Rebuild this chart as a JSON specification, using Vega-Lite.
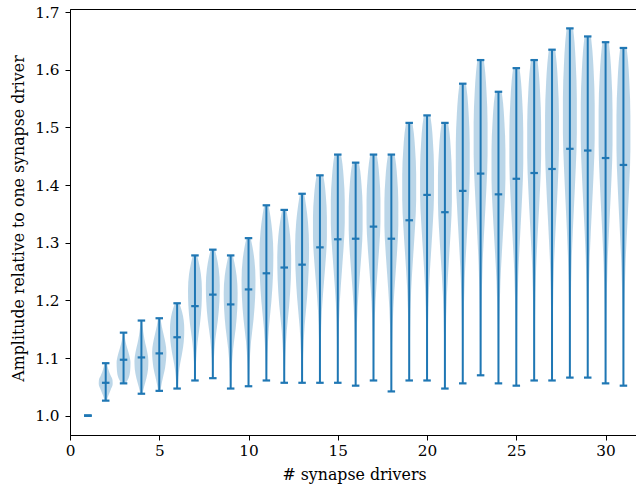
{
"$schema":"https://vega.github.io/schema/vega-lite/v6.json",
"autosize":{"type":"none"},
"padding":{"left":70,"top":9,"right":0,"bottom":50},
"width":567,"height":426,
"background":"white",
"config":{
 "view":{"stroke":"black","strokeWidth":1},
 "axis":{"grid":false,"domainColor":"black","domainWidth":1,"tickColor":"black","tickWidth":1,"tickSize":5,"labelFont":"DejaVu Serif","labelFontSize":15.3,"labelColor":"black","titleFont":"DejaVu Serif","titleFontSize":15.8,"titleFontWeight":"normal","titleColor":"black"}
},
"datasets":{
"bodies":[
{"d":2,"y":1.026,"lo":1.94,"hi":2.06},{"d":2,"y":1.035,"lo":1.85,"hi":2.15},{"d":2,"y":1.045,"lo":1.72,"hi":2.28},{"d":2,"y":1.055,"lo":1.61,"hi":2.39},{"d":2,"y":1.062,"lo":1.62,"hi":2.38},{"d":2,"y":1.070,"lo":1.73,"hi":2.27},{"d":2,"y":1.080,"lo":1.85,"hi":2.15},{"d":2,"y":1.091,"lo":1.93,"hi":2.07},
{"d":3,"y":1.056,"lo":2.88,"hi":3.12},{"d":3,"y":1.065,"lo":2.72,"hi":3.28},{"d":3,"y":1.078,"lo":2.63,"hi":3.37},{"d":3,"y":1.092,"lo":2.61,"hi":3.39},{"d":3,"y":1.105,"lo":2.68,"hi":3.32},{"d":3,"y":1.118,"lo":2.8,"hi":3.2},{"d":3,"y":1.130,"lo":2.9,"hi":3.1},{"d":3,"y":1.144,"lo":2.95,"hi":3.05},
{"d":4,"y":1.038,"lo":3.94,"hi":4.06},{"d":4,"y":1.050,"lo":3.85,"hi":4.15},{"d":4,"y":1.065,"lo":3.72,"hi":4.28},{"d":4,"y":1.080,"lo":3.63,"hi":4.37},{"d":4,"y":1.095,"lo":3.61,"hi":4.39},{"d":4,"y":1.110,"lo":3.67,"hi":4.33},{"d":4,"y":1.125,"lo":3.78,"hi":4.22},{"d":4,"y":1.140,"lo":3.87,"hi":4.13},{"d":4,"y":1.152,"lo":3.92,"hi":4.08},{"d":4,"y":1.165,"lo":3.95,"hi":4.05},
{"d":5,"y":1.043,"lo":4.94,"hi":5.06},{"d":5,"y":1.055,"lo":4.87,"hi":5.13},{"d":5,"y":1.068,"lo":4.78,"hi":5.22},{"d":5,"y":1.082,"lo":4.68,"hi":5.32},{"d":5,"y":1.097,"lo":4.62,"hi":5.38},{"d":5,"y":1.110,"lo":4.6,"hi":5.4},{"d":5,"y":1.125,"lo":4.65,"hi":5.35},{"d":5,"y":1.140,"lo":4.75,"hi":5.25},{"d":5,"y":1.155,"lo":4.86,"hi":5.14},{"d":5,"y":1.169,"lo":4.93,"hi":5.07},
{"d":6,"y":1.047,"lo":5.96,"hi":6.04},{"d":6,"y":1.060,"lo":5.94,"hi":6.06},{"d":6,"y":1.075,"lo":5.9,"hi":6.1},{"d":6,"y":1.090,"lo":5.83,"hi":6.17},{"d":6,"y":1.105,"lo":5.74,"hi":6.26},{"d":6,"y":1.120,"lo":5.66,"hi":6.34},{"d":6,"y":1.135,"lo":5.61,"hi":6.39},{"d":6,"y":1.150,"lo":5.6,"hi":6.4},{"d":6,"y":1.165,"lo":5.63,"hi":6.37},{"d":6,"y":1.180,"lo":5.72,"hi":6.28},{"d":6,"y":1.195,"lo":5.88,"hi":6.12},
{"d":7,"y":1.061,"lo":6.97,"hi":7.03},{"d":7,"y":1.094,"lo":6.94,"hi":7.06},{"d":7,"y":1.126,"lo":6.86,"hi":7.14},{"d":7,"y":1.159,"lo":6.72,"hi":7.28},{"d":7,"y":1.191,"lo":6.63,"hi":7.37},{"d":7,"y":1.217,"lo":6.61,"hi":7.39},{"d":7,"y":1.246,"lo":6.67,"hi":7.33},{"d":7,"y":1.265,"lo":6.78,"hi":7.22},{"d":7,"y":1.278,"lo":6.88,"hi":7.12},
{"d":8,"y":1.065,"lo":7.97,"hi":8.03},{"d":8,"y":1.099,"lo":7.94,"hi":8.06},{"d":8,"y":1.132,"lo":7.86,"hi":8.14},{"d":8,"y":1.165,"lo":7.72,"hi":8.28},{"d":8,"y":1.199,"lo":7.63,"hi":8.37},{"d":8,"y":1.226,"lo":7.61,"hi":8.39},{"d":8,"y":1.255,"lo":7.67,"hi":8.33},{"d":8,"y":1.275,"lo":7.78,"hi":8.22},{"d":8,"y":1.288,"lo":7.88,"hi":8.12},
{"d":9,"y":1.047,"lo":8.97,"hi":9.03},{"d":9,"y":1.082,"lo":8.94,"hi":9.06},{"d":9,"y":1.116,"lo":8.86,"hi":9.14},{"d":9,"y":1.151,"lo":8.72,"hi":9.28},{"d":9,"y":1.186,"lo":8.63,"hi":9.37},{"d":9,"y":1.213,"lo":8.61,"hi":9.39},{"d":9,"y":1.243,"lo":8.67,"hi":9.33},{"d":9,"y":1.264,"lo":8.78,"hi":9.22},{"d":9,"y":1.278,"lo":8.88,"hi":9.12},
{"d":10,"y":1.051,"lo":9.97,"hi":10.03},{"d":10,"y":1.090,"lo":9.94,"hi":10.06},{"d":10,"y":1.128,"lo":9.86,"hi":10.14},{"d":10,"y":1.167,"lo":9.72,"hi":10.28},{"d":10,"y":1.205,"lo":9.63,"hi":10.37},{"d":10,"y":1.236,"lo":9.61,"hi":10.39},{"d":10,"y":1.270,"lo":9.67,"hi":10.33},{"d":10,"y":1.293,"lo":9.78,"hi":10.22},{"d":10,"y":1.308,"lo":9.88,"hi":10.12},
{"d":11,"y":1.061,"lo":10.97,"hi":11.03},{"d":11,"y":1.107,"lo":10.94,"hi":11.06},{"d":11,"y":1.152,"lo":10.86,"hi":11.14},{"d":11,"y":1.198,"lo":10.72,"hi":11.28},{"d":11,"y":1.243,"lo":10.63,"hi":11.37},{"d":11,"y":1.280,"lo":10.61,"hi":11.39},{"d":11,"y":1.319,"lo":10.67,"hi":11.33},{"d":11,"y":1.347,"lo":10.78,"hi":11.22},{"d":11,"y":1.365,"lo":10.88,"hi":11.12},
{"d":12,"y":1.057,"lo":11.97,"hi":12.03},{"d":12,"y":1.102,"lo":11.94,"hi":12.06},{"d":12,"y":1.147,"lo":11.86,"hi":12.14},{"d":12,"y":1.192,"lo":11.72,"hi":12.28},{"d":12,"y":1.237,"lo":11.63,"hi":12.37},{"d":12,"y":1.273,"lo":11.61,"hi":12.39},{"d":12,"y":1.312,"lo":11.67,"hi":12.33},{"d":12,"y":1.339,"lo":11.78,"hi":12.22},{"d":12,"y":1.357,"lo":11.88,"hi":12.12},
{"d":13,"y":1.057,"lo":12.97,"hi":13.03},{"d":13,"y":1.106,"lo":12.94,"hi":13.06},{"d":13,"y":1.155,"lo":12.86,"hi":13.14},{"d":13,"y":1.205,"lo":12.72,"hi":13.28},{"d":13,"y":1.254,"lo":12.63,"hi":13.37},{"d":13,"y":1.293,"lo":12.61,"hi":13.39},{"d":13,"y":1.336,"lo":12.67,"hi":13.33},{"d":13,"y":1.365,"lo":12.78,"hi":13.22},{"d":13,"y":1.385,"lo":12.88,"hi":13.12},
{"d":14,"y":1.057,"lo":13.97,"hi":14.03},{"d":14,"y":1.129,"lo":13.95,"hi":14.05},{"d":14,"y":1.183,"lo":13.89,"hi":14.11},{"d":14,"y":1.237,"lo":13.76,"hi":14.24},{"d":14,"y":1.273,"lo":13.67,"hi":14.33},{"d":14,"y":1.309,"lo":13.61,"hi":14.39},{"d":14,"y":1.345,"lo":13.61,"hi":14.39},{"d":14,"y":1.381,"lo":13.67,"hi":14.33},{"d":14,"y":1.403,"lo":13.74,"hi":14.26},{"d":14,"y":1.417,"lo":13.82,"hi":14.18},
{"d":15,"y":1.057,"lo":14.97,"hi":15.03},{"d":15,"y":1.136,"lo":14.95,"hi":15.05},{"d":15,"y":1.196,"lo":14.89,"hi":15.11},{"d":15,"y":1.255,"lo":14.76,"hi":15.24},{"d":15,"y":1.295,"lo":14.67,"hi":15.33},{"d":15,"y":1.334,"lo":14.61,"hi":15.39},{"d":15,"y":1.374,"lo":14.61,"hi":15.39},{"d":15,"y":1.413,"lo":14.67,"hi":15.33},{"d":15,"y":1.437,"lo":14.74,"hi":15.26},{"d":15,"y":1.453,"lo":14.82,"hi":15.18},
{"d":16,"y":1.052,"lo":15.97,"hi":16.03},{"d":16,"y":1.129,"lo":15.95,"hi":16.05},{"d":16,"y":1.188,"lo":15.89,"hi":16.11},{"d":16,"y":1.246,"lo":15.76,"hi":16.24},{"d":16,"y":1.284,"lo":15.67,"hi":16.33},{"d":16,"y":1.323,"lo":15.61,"hi":16.39},{"d":16,"y":1.362,"lo":15.61,"hi":16.39},{"d":16,"y":1.400,"lo":15.67,"hi":16.33},{"d":16,"y":1.424,"lo":15.74,"hi":16.26},{"d":16,"y":1.439,"lo":15.82,"hi":16.18},
{"d":17,"y":1.061,"lo":16.97,"hi":17.03},{"d":17,"y":1.139,"lo":16.95,"hi":17.05},{"d":17,"y":1.198,"lo":16.89,"hi":17.11},{"d":17,"y":1.257,"lo":16.76,"hi":17.24},{"d":17,"y":1.296,"lo":16.67,"hi":17.33},{"d":17,"y":1.335,"lo":16.61,"hi":17.39},{"d":17,"y":1.375,"lo":16.61,"hi":17.39},{"d":17,"y":1.414,"lo":16.67,"hi":17.33},{"d":17,"y":1.437,"lo":16.74,"hi":17.26},{"d":17,"y":1.453,"lo":16.82,"hi":17.18},
{"d":18,"y":1.042,"lo":17.97,"hi":18.03},{"d":18,"y":1.124,"lo":17.95,"hi":18.05},{"d":18,"y":1.186,"lo":17.89,"hi":18.11},{"d":18,"y":1.248,"lo":17.76,"hi":18.24},{"d":18,"y":1.289,"lo":17.67,"hi":18.33},{"d":18,"y":1.330,"lo":17.61,"hi":18.39},{"d":18,"y":1.371,"lo":17.61,"hi":18.39},{"d":18,"y":1.412,"lo":17.67,"hi":18.33},{"d":18,"y":1.437,"lo":17.74,"hi":18.26},{"d":18,"y":1.453,"lo":17.82,"hi":18.18},
{"d":19,"y":1.061,"lo":18.97,"hi":19.03},{"d":19,"y":1.150,"lo":18.95,"hi":19.05},{"d":19,"y":1.218,"lo":18.89,"hi":19.11},{"d":19,"y":1.285,"lo":18.76,"hi":19.24},{"d":19,"y":1.329,"lo":18.67,"hi":19.33},{"d":19,"y":1.374,"lo":18.61,"hi":19.39},{"d":19,"y":1.419,"lo":18.61,"hi":19.39},{"d":19,"y":1.463,"lo":18.67,"hi":19.33},{"d":19,"y":1.490,"lo":18.74,"hi":19.26},{"d":19,"y":1.508,"lo":18.82,"hi":19.18},
{"d":20,"y":1.061,"lo":19.97,"hi":20.03},{"d":20,"y":1.153,"lo":19.95,"hi":20.05},{"d":20,"y":1.222,"lo":19.89,"hi":20.11},{"d":20,"y":1.291,"lo":19.76,"hi":20.24},{"d":20,"y":1.337,"lo":19.67,"hi":20.33},{"d":20,"y":1.383,"lo":19.61,"hi":20.39},{"d":20,"y":1.429,"lo":19.61,"hi":20.39},{"d":20,"y":1.475,"lo":19.67,"hi":20.33},{"d":20,"y":1.503,"lo":19.74,"hi":20.26},{"d":20,"y":1.521,"lo":19.82,"hi":20.18},
{"d":21,"y":1.047,"lo":20.97,"hi":21.03},{"d":21,"y":1.139,"lo":20.95,"hi":21.05},{"d":21,"y":1.208,"lo":20.89,"hi":21.11},{"d":21,"y":1.278,"lo":20.76,"hi":21.24},{"d":21,"y":1.324,"lo":20.67,"hi":21.33},{"d":21,"y":1.370,"lo":20.61,"hi":21.39},{"d":21,"y":1.416,"lo":20.61,"hi":21.39},{"d":21,"y":1.462,"lo":20.67,"hi":21.33},{"d":21,"y":1.490,"lo":20.74,"hi":21.26},{"d":21,"y":1.508,"lo":20.82,"hi":21.18},
{"d":22,"y":1.056,"lo":21.97,"hi":22.03},{"d":22,"y":1.160,"lo":21.95,"hi":22.05},{"d":22,"y":1.238,"lo":21.89,"hi":22.11},{"d":22,"y":1.316,"lo":21.76,"hi":22.24},{"d":22,"y":1.368,"lo":21.67,"hi":22.33},{"d":22,"y":1.420,"lo":21.61,"hi":22.39},{"d":22,"y":1.472,"lo":21.61,"hi":22.39},{"d":22,"y":1.524,"lo":21.67,"hi":22.33},{"d":22,"y":1.555,"lo":21.74,"hi":22.26},{"d":22,"y":1.576,"lo":21.82,"hi":22.18},
{"d":23,"y":1.070,"lo":22.97,"hi":23.03},{"d":23,"y":1.179,"lo":22.95,"hi":23.05},{"d":23,"y":1.262,"lo":22.89,"hi":23.11},{"d":23,"y":1.344,"lo":22.76,"hi":23.24},{"d":23,"y":1.398,"lo":22.67,"hi":23.33},{"d":23,"y":1.453,"lo":22.61,"hi":23.39},{"d":23,"y":1.508,"lo":22.61,"hi":23.39},{"d":23,"y":1.562,"lo":22.67,"hi":23.33},{"d":23,"y":1.595,"lo":22.74,"hi":23.26},{"d":23,"y":1.617,"lo":22.82,"hi":23.18},
{"d":24,"y":1.056,"lo":23.97,"hi":24.03},{"d":24,"y":1.157,"lo":23.95,"hi":24.05},{"d":24,"y":1.233,"lo":23.89,"hi":24.11},{"d":24,"y":1.309,"lo":23.76,"hi":24.24},{"d":24,"y":1.360,"lo":23.67,"hi":24.33},{"d":24,"y":1.410,"lo":23.61,"hi":24.39},{"d":24,"y":1.461,"lo":23.61,"hi":24.39},{"d":24,"y":1.511,"lo":23.67,"hi":24.33},{"d":24,"y":1.542,"lo":23.74,"hi":24.26},{"d":24,"y":1.562,"lo":23.82,"hi":24.18},
{"d":25,"y":1.052,"lo":24.97,"hi":25.03},{"d":25,"y":1.162,"lo":24.95,"hi":25.05},{"d":25,"y":1.245,"lo":24.89,"hi":25.11},{"d":25,"y":1.328,"lo":24.76,"hi":25.24},{"d":25,"y":1.383,"lo":24.67,"hi":25.33},{"d":25,"y":1.438,"lo":24.61,"hi":25.39},{"d":25,"y":1.493,"lo":24.61,"hi":25.39},{"d":25,"y":1.548,"lo":24.67,"hi":25.33},{"d":25,"y":1.581,"lo":24.74,"hi":25.26},{"d":25,"y":1.603,"lo":24.82,"hi":25.18},
{"d":26,"y":1.061,"lo":25.97,"hi":26.03},{"d":26,"y":1.172,"lo":25.95,"hi":26.05},{"d":26,"y":1.256,"lo":25.89,"hi":26.11},{"d":26,"y":1.339,"lo":25.76,"hi":26.24},{"d":26,"y":1.395,"lo":25.67,"hi":26.33},{"d":26,"y":1.450,"lo":25.61,"hi":26.39},{"d":26,"y":1.506,"lo":25.61,"hi":26.39},{"d":26,"y":1.561,"lo":25.67,"hi":26.33},{"d":26,"y":1.595,"lo":25.74,"hi":26.26},{"d":26,"y":1.617,"lo":25.82,"hi":26.18},
{"d":27,"y":1.061,"lo":26.97,"hi":27.03},{"d":27,"y":1.176,"lo":26.95,"hi":27.05},{"d":27,"y":1.262,"lo":26.89,"hi":27.11},{"d":27,"y":1.348,"lo":26.76,"hi":27.24},{"d":27,"y":1.405,"lo":26.67,"hi":27.33},{"d":27,"y":1.463,"lo":26.61,"hi":27.39},{"d":27,"y":1.520,"lo":26.61,"hi":27.39},{"d":27,"y":1.578,"lo":26.67,"hi":27.33},{"d":27,"y":1.612,"lo":26.74,"hi":27.26},{"d":27,"y":1.635,"lo":26.82,"hi":27.18},
{"d":28,"y":1.066,"lo":27.97,"hi":28.03},{"d":28,"y":1.187,"lo":27.95,"hi":28.05},{"d":28,"y":1.278,"lo":27.89,"hi":28.11},{"d":28,"y":1.369,"lo":27.76,"hi":28.24},{"d":28,"y":1.430,"lo":27.67,"hi":28.33},{"d":28,"y":1.490,"lo":27.61,"hi":28.39},{"d":28,"y":1.551,"lo":27.61,"hi":28.39},{"d":28,"y":1.611,"lo":27.67,"hi":28.33},{"d":28,"y":1.648,"lo":27.74,"hi":28.26},{"d":28,"y":1.672,"lo":27.82,"hi":28.18},
{"d":29,"y":1.066,"lo":28.97,"hi":29.03},{"d":29,"y":1.184,"lo":28.95,"hi":29.05},{"d":29,"y":1.273,"lo":28.89,"hi":29.11},{"d":29,"y":1.362,"lo":28.76,"hi":29.24},{"d":29,"y":1.421,"lo":28.67,"hi":29.33},{"d":29,"y":1.480,"lo":28.61,"hi":29.39},{"d":29,"y":1.540,"lo":28.61,"hi":29.39},{"d":29,"y":1.599,"lo":28.67,"hi":29.33},{"d":29,"y":1.634,"lo":28.74,"hi":29.26},{"d":29,"y":1.658,"lo":28.82,"hi":29.18},
{"d":30,"y":1.056,"lo":29.97,"hi":30.03},{"d":30,"y":1.174,"lo":29.95,"hi":30.05},{"d":30,"y":1.263,"lo":29.89,"hi":30.11},{"d":30,"y":1.352,"lo":29.76,"hi":30.24},{"d":30,"y":1.411,"lo":29.67,"hi":30.33},{"d":30,"y":1.470,"lo":29.61,"hi":30.39},{"d":30,"y":1.530,"lo":29.61,"hi":30.39},{"d":30,"y":1.589,"lo":29.67,"hi":30.33},{"d":30,"y":1.624,"lo":29.74,"hi":30.26},{"d":30,"y":1.648,"lo":29.82,"hi":30.18},
{"d":31,"y":1.052,"lo":30.97,"hi":31.03},{"d":31,"y":1.169,"lo":30.95,"hi":31.05},{"d":31,"y":1.257,"lo":30.89,"hi":31.11},{"d":31,"y":1.345,"lo":30.76,"hi":31.24},{"d":31,"y":1.404,"lo":30.67,"hi":31.33},{"d":31,"y":1.462,"lo":30.61,"hi":31.39},{"d":31,"y":1.521,"lo":30.61,"hi":31.39},{"d":31,"y":1.579,"lo":30.67,"hi":31.33},{"d":31,"y":1.615,"lo":30.74,"hi":31.26},{"d":31,"y":1.638,"lo":30.82,"hi":31.18}
],
"stats":[
{"d":1,"min":1.0,"med":1.0,"max":1.0},
{"d":2,"min":1.026,"med":1.057,"max":1.091},
{"d":3,"min":1.056,"med":1.097,"max":1.144},
{"d":4,"min":1.038,"med":1.101,"max":1.165},
{"d":5,"min":1.043,"med":1.108,"max":1.169},
{"d":6,"min":1.047,"med":1.136,"max":1.195},
{"d":7,"min":1.061,"med":1.190,"max":1.278},
{"d":8,"min":1.065,"med":1.210,"max":1.288},
{"d":9,"min":1.047,"med":1.193,"max":1.278},
{"d":10,"min":1.051,"med":1.219,"max":1.308},
{"d":11,"min":1.061,"med":1.247,"max":1.365},
{"d":12,"min":1.057,"med":1.257,"max":1.357},
{"d":13,"min":1.057,"med":1.262,"max":1.385},
{"d":14,"min":1.057,"med":1.292,"max":1.417},
{"d":15,"min":1.057,"med":1.306,"max":1.453},
{"d":16,"min":1.052,"med":1.307,"max":1.439},
{"d":17,"min":1.061,"med":1.328,"max":1.453},
{"d":18,"min":1.042,"med":1.307,"max":1.453},
{"d":19,"min":1.061,"med":1.339,"max":1.508},
{"d":20,"min":1.061,"med":1.383,"max":1.521},
{"d":21,"min":1.047,"med":1.353,"max":1.508},
{"d":22,"min":1.056,"med":1.390,"max":1.576},
{"d":23,"min":1.070,"med":1.420,"max":1.617},
{"d":24,"min":1.056,"med":1.384,"max":1.562},
{"d":25,"min":1.052,"med":1.411,"max":1.603},
{"d":26,"min":1.061,"med":1.421,"max":1.617},
{"d":27,"min":1.061,"med":1.428,"max":1.635},
{"d":28,"min":1.066,"med":1.463,"max":1.672},
{"d":29,"min":1.066,"med":1.460,"max":1.658},
{"d":30,"min":1.056,"med":1.447,"max":1.648},
{"d":31,"min":1.052,"med":1.435,"max":1.638}
]
},
"layer":[
{"data":{"name":"bodies"},
 "mark":{"type":"area","orient":"horizontal","interpolate":"monotone","color":"#1f77b4","opacity":0.3},
 "encoding":{
  "y":{"field":"y","type":"quantitative","scale":{"domain":[0.9664,1.7056],"nice":false,"zero":false},
       "axis":{"title":"Amplitude relative to one synapse driver","values":[1.0,1.1,1.2,1.3,1.4,1.5,1.6,1.7],"format":".1f","labelPadding":6,"titleX":-52,"titleY":209,"titleAngle":-90,"titleAlign":"center","titleBaseline":"middle"}},
  "x":{"field":"lo","type":"quantitative","stack":null,"scale":{"domain":[0,31.76],"nice":false,"zero":false},
       "axis":{"title":"# synapse drivers","values":[0,5,10,15,20,25,30],"format":"d","labelPadding":3,"labelFlush":false,"titleX":284,"titleY":32,"titleAlign":"center","titleBaseline":"top"}},
  "x2":{"field":"hi"},
  "detail":{"field":"d","type":"nominal"}
 }},
{"data":{"name":"stats"},
 "mark":{"type":"rule","color":"#1f77b4","strokeWidth":2},
 "encoding":{
  "x":{"field":"d","type":"quantitative","scale":{"domain":[0,31.76],"nice":false,"zero":false},
       "axis":{"title":"# synapse drivers","values":[0,5,10,15,20,25,30],"format":"d","labelPadding":3,"labelFlush":false,"titleX":284,"titleY":32,"titleAlign":"center","titleBaseline":"top"}},
  "y":{"field":"min","type":"quantitative","scale":{"domain":[0.9664,1.7056],"nice":false,"zero":false},
       "axis":{"title":"Amplitude relative to one synapse driver","values":[1.0,1.1,1.2,1.3,1.4,1.5,1.6,1.7],"format":".1f","labelPadding":6,"titleX":-52,"titleY":209,"titleAngle":-90,"titleAlign":"center","titleBaseline":"middle"}},
  "y2":{"field":"max"}
 }},
{"data":{"name":"stats"},
 "mark":{"type":"tick","orient":"horizontal","color":"#1f77b4","opacity":1,"size":7.5,"thickness":2.2},
 "encoding":{
  "x":{"field":"d","type":"quantitative","scale":{"domain":[0,31.76],"nice":false,"zero":false},
       "axis":{"title":"# synapse drivers","values":[0,5,10,15,20,25,30],"format":"d","labelPadding":3,"labelFlush":false,"titleX":284,"titleY":32,"titleAlign":"center","titleBaseline":"top"}},
  "y":{"field":"min","type":"quantitative","scale":{"domain":[0.9664,1.7056],"nice":false,"zero":false},
       "axis":{"title":"Amplitude relative to one synapse driver","values":[1.0,1.1,1.2,1.3,1.4,1.5,1.6,1.7],"format":".1f","labelPadding":6,"titleX":-52,"titleY":209,"titleAngle":-90,"titleAlign":"center","titleBaseline":"middle"}}
 }},
{"data":{"name":"stats"},
 "mark":{"type":"tick","orient":"horizontal","color":"#1f77b4","opacity":1,"size":7.5,"thickness":2.2},
 "encoding":{
  "x":{"field":"d","type":"quantitative","scale":{"domain":[0,31.76],"nice":false,"zero":false},
       "axis":{"title":"# synapse drivers","values":[0,5,10,15,20,25,30],"format":"d","labelPadding":3,"labelFlush":false,"titleX":284,"titleY":32,"titleAlign":"center","titleBaseline":"top"}},
  "y":{"field":"med","type":"quantitative","scale":{"domain":[0.9664,1.7056],"nice":false,"zero":false},
       "axis":{"title":"Amplitude relative to one synapse driver","values":[1.0,1.1,1.2,1.3,1.4,1.5,1.6,1.7],"format":".1f","labelPadding":6,"titleX":-52,"titleY":209,"titleAngle":-90,"titleAlign":"center","titleBaseline":"middle"}}
 }},
{"data":{"name":"stats"},
 "mark":{"type":"tick","orient":"horizontal","color":"#1f77b4","opacity":1,"size":7.5,"thickness":2.2},
 "encoding":{
  "x":{"field":"d","type":"quantitative","scale":{"domain":[0,31.76],"nice":false,"zero":false},
       "axis":{"title":"# synapse drivers","values":[0,5,10,15,20,25,30],"format":"d","labelPadding":3,"labelFlush":false,"titleX":284,"titleY":32,"titleAlign":"center","titleBaseline":"top"}},
  "y":{"field":"max","type":"quantitative","scale":{"domain":[0.9664,1.7056],"nice":false,"zero":false},
       "axis":{"title":"Amplitude relative to one synapse driver","values":[1.0,1.1,1.2,1.3,1.4,1.5,1.6,1.7],"format":".1f","labelPadding":6,"titleX":-52,"titleY":209,"titleAngle":-90,"titleAlign":"center","titleBaseline":"middle"}}
 }}
]
}
